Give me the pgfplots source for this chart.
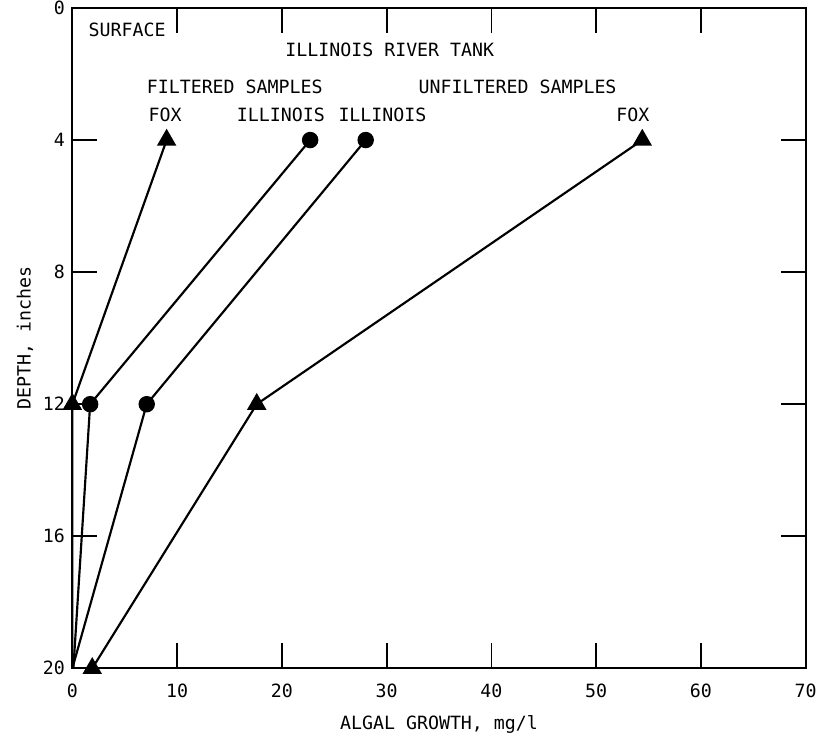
\documentclass[border=0pt]{standalone}
\usepackage{pgfplots}
\pgfplotsset{compat=1.18}
\usepackage{fontspec}
\setmainfont{DejaVu Sans Mono}
\newcommand{\f}{\fontsize{11}{13}\selectfont}
\begin{document}
\begin{tikzpicture}
\begin{axis}[
  scale only axis,
  width=442pt, height=398pt,
  xmin=0, xmax=70, ymin=0, ymax=20,
  y dir=reverse,
  xtick={0,10,...,70}, ytick={0,4,...,20},
  major tick length=15pt,
  tick style={line width=1.1pt, black},
  axis line style={line width=1.2pt},
  /pgf/number format/assume math mode=true,
  ticklabel style={font=\f},
  xticklabel style={yshift=-6pt},
  yticklabel style={xshift=-1pt},
  xlabel={ALGAL GROWTH, mg/l},
  ylabel={DEPTH, inches},
  label style={font=\f},
  xlabel style={yshift=-4pt},
  ylabel style={yshift=-1pt},
  clip=false,
]
\addplot[black, line width=1.3pt, mark=triangle*, mark size=5.5pt, mark indices={1,2}, mark options={solid}]
  coordinates {(9.0,4) (0,12) (0,20)};
\addplot[black, line width=1.3pt, mark=*, mark size=4.3pt, mark indices={1,2}]
  coordinates {(22.7,4) (1.7,12) (0.1,20)};
\addplot[black, line width=1.3pt, mark=*, mark size=4.3pt, mark indices={1,2}]
  coordinates {(28.0,4) (7.1,12) (0,20)};
\addplot[black, line width=1.3pt, mark=triangle*, mark size=5.5pt]
  coordinates {(54.4,4) (17.6,12) (1.9,20)};
\node[font=\f, anchor=west] at (axis cs:1.0,0.65) {SURFACE};
\node[font=\f] at (axis cs:30.3,1.26) {ILLINOIS RIVER TANK};
\node[font=\f] at (axis cs:15.5,2.38) {FILTERED SAMPLES};
\node[font=\f] at (axis cs:42.5,2.38) {UNFILTERED SAMPLES};
\node[font=\f] at (axis cs:8.85,3.23) {FOX};
\node[font=\f] at (axis cs:19.9,3.23) {ILLINOIS};
\node[font=\f] at (axis cs:29.6,3.23) {ILLINOIS};
\node[font=\f] at (axis cs:53.5,3.23) {FOX};
\end{axis}
\path (current axis.south west) ++(-43.6pt,-39.6pt) coordinate (bbA);
\path (current axis.north east) ++(6.8pt,4.8pt) coordinate (bbB);
\pgfresetboundingbox
\path (bbA) rectangle (bbB);
\end{tikzpicture}
\end{document}
